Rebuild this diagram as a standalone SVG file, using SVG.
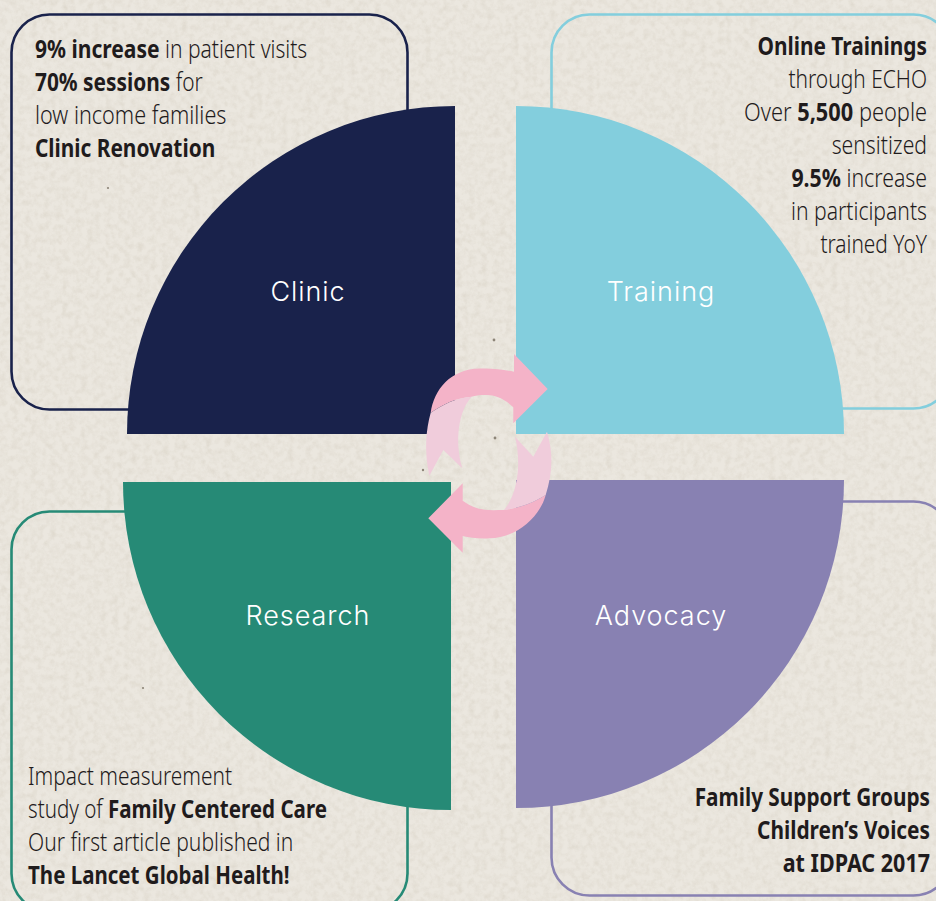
<svg xmlns="http://www.w3.org/2000/svg" width="936" height="901" viewBox="0 0 936 901">
<style>
.box{fill:none;stroke-width:2.6}
.lbl{font-family:"Inter","Lato",sans-serif;font-size:27px;font-weight:300;fill:#fff;text-anchor:middle;letter-spacing:.95px}
.t{font-family:"Noto Sans","Open Sans",sans-serif;font-size:25px;fill:#1f1b1c;font-weight:300}
.e{text-anchor:end}
.t tspan.b{font-weight:700}
</style>
<defs>
<filter id="paper" x="0" y="0" width="100%" height="100%">
<feTurbulence type="fractalNoise" baseFrequency="0.16" numOctaves="4" seed="7"/>
<feColorMatrix values="0 0 0 0 0.62  0 0 0 0 0.57  0 0 0 0 0.48  0.9 0.9 0 0 -0.74"/>
</filter>
</defs>
<rect id="background" width="936" height="901" fill="#ebe7df"/>
<rect width="936" height="901" filter="url(#paper)" opacity="0.55"/>
<g fill="#8d8578">
<circle cx="495" cy="438" r="1.4"/><circle cx="494" cy="340" r="1.4"/><circle cx="108" cy="188" r="1.1"/><circle cx="423" cy="470" r="1.2"/><circle cx="143" cy="688" r="1.1"/>
</g>
<g id="connectors">
<rect class="box" x="11.5" y="14.5" width="396" height="395" rx="38" stroke="#19224b"/>
<rect class="box" x="551.5" y="14.5" width="400" height="394" rx="38" stroke="#83cedd"/>
<rect class="box" x="11.5" y="511.5" width="396" height="400" rx="38" stroke="#268a76"/>
<rect class="box" x="551.5" y="501.5" width="400" height="394" rx="38" stroke="#8881b2"/>
</g>
<g id="clinic">
<path d="M455 106A328 328 0 0 0 127 434H455Z" fill="#19224b"/>
<text class="lbl" x="308" y="301">Clinic</text>
<text class="t" transform="translate(35 58) scale(.842 1)"><tspan class="b">9% increase</tspan> in patient visits</text>
<text class="t" transform="translate(35 91) scale(.835 1)"><tspan class="b">70% sessions</tspan> for</text>
<text class="t" transform="translate(35 124) scale(.865 1)">low income families</text>
<text class="t" transform="translate(35 157) scale(.834 1)"><tspan class="b">Clinic Renovation</tspan></text>
</g>
<g id="training">
<path d="M516 106A328 328 0 0 1 844 434H516Z" fill="#83cedd"/>
<text class="lbl" x="661" y="301">Training</text>
<text class="t e" transform="translate(927 55) scale(.835 1)"><tspan class="b">Online Trainings</tspan></text>
<text class="t e" transform="translate(927 88) scale(.838 1)">through ECHO</text>
<text class="t e" transform="translate(927 121) scale(.872 1)">Over <tspan class="b">5,500</tspan> people</text>
<text class="t e" transform="translate(927 154) scale(.847 1)">sensitized</text>
<text class="t e" transform="translate(927 187) scale(.851 1)"><tspan class="b">9.5%</tspan> increase</text>
<text class="t e" transform="translate(927 220) scale(.845 1)">in participants</text>
<text class="t e" transform="translate(927 253) scale(.836 1)">trained YoY</text>
</g>
<g id="research">
<path d="M451 810A328 328 0 0 1 123 482H451Z" fill="#268a76"/>
<text class="lbl" x="308" y="625">Research</text>
<text class="t" transform="translate(28 785) scale(.836 1)">Impact measurement</text>
<text class="t" transform="translate(28 818) scale(.823 1)">study of <tspan class="b">Family Centered Care</tspan></text>
<text class="t" transform="translate(28 851) scale(.842 1)">Our first article published in</text>
<text class="t" transform="translate(28 884) scale(.82 1)"><tspan class="b">The Lancet Global Health!</tspan></text>
</g>
<g id="advocacy">
<path d="M516 808A328 328 0 0 0 844 480H516Z" fill="#8881b2"/>
<text class="lbl" x="661" y="625">Advocacy</text>
<text class="t e" transform="translate(930 806) scale(.83 1)"><tspan class="b">Family Support Groups</tspan></text>
<text class="t e" transform="translate(930 839) scale(.834 1)"><tspan class="b">Children’s Voices</tspan></text>
<text class="t e" transform="translate(930 872) scale(.861 1)"><tspan class="b">at IDPAC 2017</tspan></text>
</g>
<g id="cycle-arrows">
<path d="M430.7 412.7C434 390 450 369 480 368.5C492 368 504 369.5 514 371.7V354L547.7 389L513.3 423.3V407.3C505 399 495 395 486.7 395C478 394.5 474 396 471.7 396.7C455 398 442 405 430.7 412.7Z" fill="#f4b3c8"/>
<path d="M430.7 412.7C442 405 455 398 471.7 396.7C459 410 454 440 462.3 468.3L443.3 450L429.3 475.7C424 450 426 430 430.7 412.7Z" fill="#f0ccdb"/>
<path d="M428.3 518.3L462.7 483.3V500.7C478 512 490 510 504 510C520 508 535 502 545.7 495C540 517 516 538 490 538.3C480 539 470 538 462.7 536V552.7Z" fill="#f4b3c8"/>
<path d="M545.7 495C535 502 520 508 504 510C517 495 522 465 515 436.7L533.3 456.7L547 431.7C554 455 552 475 545.7 495Z" fill="#f0ccdb"/>
</g>
</svg>
